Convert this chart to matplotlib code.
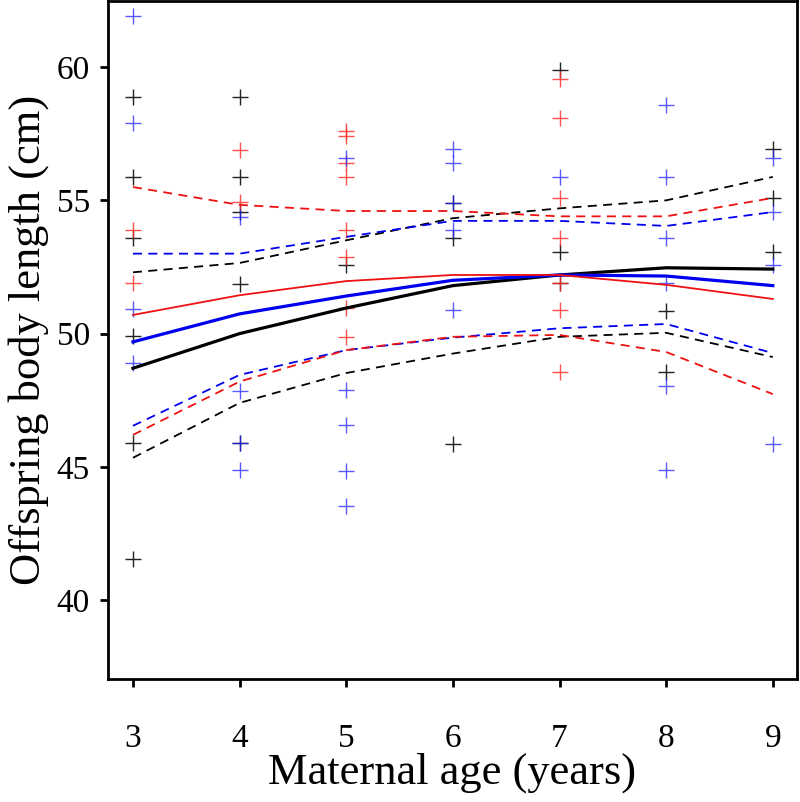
import matplotlib
matplotlib.use('Agg')
import matplotlib.pyplot as plt

plt.rcParams['font.family'] = ['Liberation Serif', 'DejaVu Serif']

ages = [3, 4, 5, 6, 7, 8, 9]

# fitted curves (solid) and confidence bands (dashed)
fit_black = [48.7, 50.0, 50.96, 51.8, 52.2, 52.47, 52.42]
fit_blue = [49.69, 50.74, 51.41, 52.0, 52.2, 52.16, 51.8]
fit_red = [50.7, 51.44, 51.97, 52.2, 52.2, 51.83, 51.3]

up_black = [52.3, 52.65, 53.5, 54.33, 54.7, 55.0, 55.88]
lo_black = [45.34, 47.4, 48.52, 49.25, 49.88, 50.03, 49.12]
up_blue = [53.0, 53.0, 53.63, 54.23, 54.23, 54.04, 54.56]
lo_blue = [46.54, 48.45, 49.38, 49.85, 50.2, 50.36, 49.27]
up_red = [55.5, 54.83, 54.6, 54.6, 54.4, 54.4, 55.09]
lo_red = [46.2, 48.2, 49.38, 49.88, 49.95, 49.31, 47.73]

# observations
obs_black_x = [3, 3, 3, 3, 3, 3, 4, 4, 4, 4, 4, 5, 6, 6, 6, 7, 7, 7, 8, 8, 9, 9, 9]
obs_black_y = [58.88, 55.88, 53.59, 49.91, 45.9, 41.55,
               58.88, 55.88, 54.56, 51.86, 45.9,
               52.57,
               54.9, 53.59, 45.86,
               59.89, 53.07, 51.9,
               50.85, 48.56,
               56.92, 55.09, 53.07]
obs_blue_x = [3, 3, 3, 3, 4, 4, 4, 4, 5, 5, 5, 5, 5, 6, 6, 6, 6, 6,
              7, 8, 8, 8, 8, 8, 8, 9, 9, 9, 9]
obs_blue_y = [61.91, 57.9, 50.93, 48.9,
              54.38, 47.85, 45.9, 44.89,
              56.6, 47.89, 46.57, 44.85, 43.54,
              56.92, 56.4, 54.9, 53.89, 50.9,
              55.88,
              58.58, 55.88, 53.59, 51.9, 48.04, 44.89,
              56.58, 54.56, 52.57, 45.86]
obs_red_x = [3, 3, 4, 4, 5, 5, 5, 5, 5, 5, 5, 5, 7, 7, 7, 7, 7, 7, 7]
obs_red_y = [53.89, 51.9,
             56.9, 54.93,
             57.6, 57.41, 56.4, 55.88, 53.89, 52.88, 50.96, 49.88,
             59.55, 58.08, 55.09, 53.59, 51.9, 50.9, 48.56]

fig = plt.figure(figsize=(8, 8.02), dpi=100)
ax = fig.add_axes([0.135, 0.1534, 0.861, 0.845])

mk = dict(marker='+', linestyle='none', markersize=12, markeredgewidth=1.0)
ax.plot(obs_black_x, obs_black_y, color='#222222', **mk)
ax.plot(obs_red_x, obs_red_y, color='#ff3030', alpha=0.85, **mk)
ax.plot(obs_blue_x, obs_blue_y, color='#2020ff', alpha=0.75, **mk)

dash = (0, (5, 3.5))
ax.plot(ages, up_black, color='black', linestyle=dash, linewidth=1.3)
ax.plot(ages, lo_black, color='black', linestyle=dash, linewidth=1.3)
ax.plot(ages, up_blue, color='#0000ee', linestyle=dash, linewidth=1.3)
ax.plot(ages, lo_blue, color='#0000ee', linestyle=dash, linewidth=1.3)
ax.plot(ages, up_red, color='#ee1111', linestyle=dash, linewidth=1.3)
ax.plot(ages, lo_red, color='#ee1111', linestyle=dash, linewidth=1.3)

ax.plot(ages, fit_black, color='black', linewidth=2.3)
ax.plot(ages, fit_blue, color='#0000ee', linewidth=2.3)
ax.plot(ages, fit_red, color='#ee1111', linewidth=1.3)

ax.set_xlim(2.766, 9.225)
ax.set_ylim(37.04, 62.47)
ax.set_xticks(ages)
ax.set_yticks([40, 45, 50, 55, 60])

for s in ax.spines.values():
    s.set_linewidth(2)
ax.tick_params(axis='both', direction='out', length=6, width=2, labelsize=24)
ax.tick_params(axis='x', pad=26)
ax.tick_params(axis='y', pad=7)

ax.set_xlabel('Maternal age (years)', fontsize=32, labelpad=-1)
ax.set_ylabel('Offspring body length (cm)', fontsize=32)
ax.yaxis.set_label_coords(-0.085, 0.5)

fig.savefig('out.png', dpi=100)
